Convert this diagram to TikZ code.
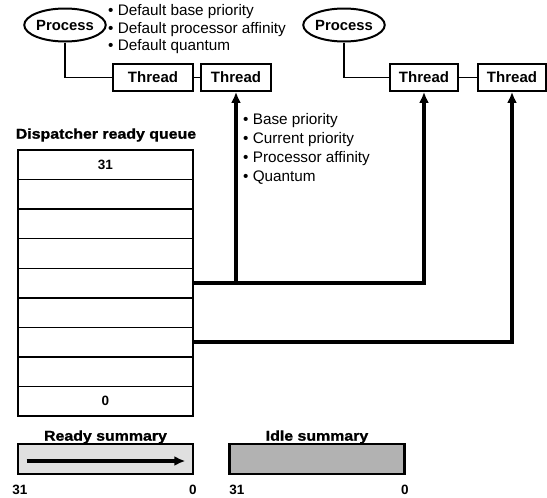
\documentclass[tikz,border=0pt]{standalone}
\usepackage{fontspec}
\setmainfont{Liberation Sans}
\newfontfamily\widefont{Liberation Sans}[FakeStretch=1.12,FakeBold=1.2]
\usetikzlibrary{arrows.meta,shapes.geometric,positioning}

\begin{document}
\begin{tikzpicture}[x=1pt, y=-1pt,
    proc/.style={ellipse, draw, line width=2pt, minimum width=76pt, minimum height=33pt, inner sep=0pt, font=\fontsize{14.8}{16}\selectfont\bfseries},
    thread/.style={draw, line width=1.8pt, minimum height=27pt, inner sep=0pt, font=\fontsize{15}{16}\selectfont\bfseries},
    slot/.style={draw, line width=1.4pt, minimum width=175pt, minimum height=29.56pt, inner sep=0pt, font=\fontsize{13.5}{14}\selectfont\bfseries},
    summary/.style={draw, line width=2.6pt, minimum width=175pt, minimum height=30pt, inner sep=0pt},
    heading/.style={inner sep=0pt, font=\widefont\fontsize{14.2}{16}\selectfont\bfseries},
    digit/.style={inner sep=0pt, font=\fontsize{13.5}{14}\selectfont\bfseries},
    props/.style={inner sep=0pt, align=left, anchor=north west},
    link/.style={line width=1.8pt},
    conn/.style={line width=3.3pt, -{Latex[length=11pt,width=10pt]}}]
        \useasboundingbox (0,0) rectangle (547,498);

        % processes and their threads
        \node [proc] (proc1) at (65,25) {Process};
        \node [proc] (proc2) at (344,25) {Process};
        \node [thread, minimum width=80pt] (thr1) at (153,77.5) {Thread};
        \node [thread, minimum width=70pt] (thr2) at (236,77.5) {Thread};
        \node [thread, minimum width=68pt] (thr3) at (424,77.5) {Thread};
        \node [thread, minimum width=68pt] (thr4) at (512,77.5) {Thread};

        \draw [link] (proc1.south) |- (thr1.west);
        \draw [link] (thr1.east) -- (thr2.west);
        \draw [link] (proc2.south) |- (thr3.west);
        \draw [link] (thr3.east) -- (thr4.west);

        \node [props, font=\fontsize{15.3}{17.5}\selectfont] (procattr) at (108,4.5)
              {• Default base priority\\ • Default processor affinity\\ • Default quantum};
        \node [props, font=\fontsize{15.3}{19}\selectfont] (thrattr) at (243,113.5)
              {• Base priority\\ • Current priority\\ • Processor affinity\\ • Quantum};

        % ready queue
        \node [heading] (qtitle) at (106,135) {Dispatcher ready queue};
        \node [slot] (q0) at (105.5,164.78) {31};
        \node [slot] (q1) at (105.5,194.34) {};
        \node [slot] (q2) at (105.5,223.90) {};
        \node [slot] (q3) at (105.5,253.46) {};
        \node [slot] (q4) at (105.5,283.02) {};
        \node [slot] (q5) at (105.5,312.58) {};
        \node [slot] (q6) at (105.5,342.14) {};
        \node [slot] (q7) at (105.5,371.70) {};
        \node [slot] (q8) at (105.5,401.26) {0};

        \draw [conn] (q4.east) -| (thr3.south);
        \draw [conn] (q4.east -| thr2.south) -- (thr2.south);
        \draw [conn] (q6.east) -| (thr4.south);

        % summaries
        \node [heading] (rtitle) at (105.5,437) {Ready summary};
        \node [summary, fill=black!12] (ready) at (105.5,459) {};
        \node [heading] (ititle) at (317,437) {Idle summary};
        \node [summary, fill=black!30] (idle) at (317,459) {};

        \coordinate (rtail) at ([xshift=10pt,yshift=-2pt]ready.west);
        \coordinate (rhead) at ([xshift=-9pt,yshift=-2pt]ready.east);
        \draw [conn] (rtail) -- (rhead);

        \node [digit] (r31) at (20,490) {31};
        \node [digit] (r0) at (193,490) {0};
        \node [digit] (i31) at (237,490) {31};
        \node [digit] (i0) at (405,490) {0};
      \end{tikzpicture}
\end{document}
